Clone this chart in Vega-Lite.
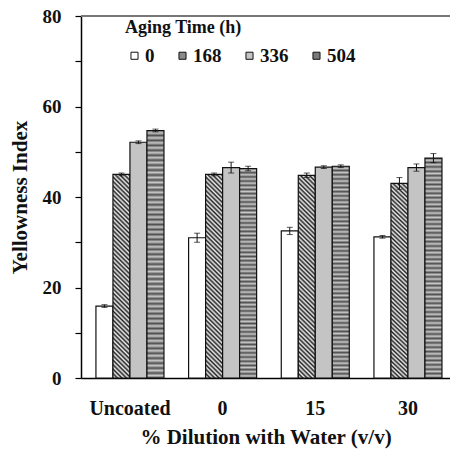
{
  "$schema": "https://vega.github.io/schema/vega-lite/v6.json",
  "autosize": {"type": "none"},
  "padding": {"left": 81, "top": 16, "right": 0, "bottom": 77},
  "width": 369,
  "height": 362,
  "background": "white",
  "config": {"view": {"stroke": null}, "font": "Times New Roman, Liberation Serif, serif"},
  "data": {"values": [
    {"g": "Uncoated", "t": "0", "v": 15.9, "lo": 15.6, "hi": 16.2},
    {"g": "Uncoated", "t": "168", "v": 45.0, "lo": 44.7, "hi": 45.3},
    {"g": "Uncoated", "t": "336", "v": 52.1, "lo": 51.8, "hi": 52.4},
    {"g": "Uncoated", "t": "504", "v": 54.7, "lo": 54.4, "hi": 55.0},
    {"g": "0", "t": "0", "v": 31.0, "lo": 30.0, "hi": 32.0},
    {"g": "0", "t": "168", "v": 45.0, "lo": 44.7, "hi": 45.3},
    {"g": "0", "t": "336", "v": 46.5, "lo": 45.3, "hi": 47.7},
    {"g": "0", "t": "504", "v": 46.3, "lo": 45.8, "hi": 46.8},
    {"g": "15", "t": "0", "v": 32.5, "lo": 31.7, "hi": 33.3},
    {"g": "15", "t": "168", "v": 44.8, "lo": 44.3, "hi": 45.3},
    {"g": "15", "t": "336", "v": 46.6, "lo": 46.3, "hi": 46.9},
    {"g": "15", "t": "504", "v": 46.8, "lo": 46.5, "hi": 47.1},
    {"g": "30", "t": "0", "v": 31.2, "lo": 30.9, "hi": 31.5},
    {"g": "30", "t": "168", "v": 43.0, "lo": 41.7, "hi": 44.3},
    {"g": "30", "t": "336", "v": 46.5, "lo": 45.7, "hi": 47.3},
    {"g": "30", "t": "504", "v": 48.6, "lo": 47.6, "hi": 49.6}
  ]},
  "encoding": {
    "x": {"field": "g", "type": "nominal", "sort": ["Uncoated", "0", "15", "30"],
      "scale": {"paddingInner": 0.266, "paddingOuter": 0.124, "align": 0.65},
      "axis": {"title": "% Dilution with Water (v/v)", "labelAngle": 0, "ticks": false,
        "domainColor": "#000", "domainWidth": 1.5,
        "labelFont": "Times New Roman, Liberation Serif, serif", "labelFontSize": 20, "labelFontWeight": "bold", "labelColor": "#111", "labelPadding": 20,
        "titleFont": "Times New Roman, Liberation Serif, serif", "titleFontSize": 21, "titleFontWeight": "bold", "titleColor": "#111", "titlePadding": 8}},
    "xOffset": {"field": "t", "type": "nominal", "sort": ["0", "168", "336", "504"], "scale": {"paddingInner": 0, "paddingOuter": 0}}
  },
  "layer": [
    {
      "mark": {"type": "bar", "stroke": "#111", "strokeWidth": 1.2},
      "encoding": {
        "y": {"field": "v", "type": "quantitative", "title": "Yellowness Index",
          "scale": {"domain": [0, 80], "nice": false},
          "axis": {"values": [0, 10, 20, 30, 40, 50, 60, 70, 80],
            "labelExpr": "datum.value % 20 === 0 ? datum.label : ''",
            "grid": false, "tickSize": 6, "tickColor": "#000", "tickWidth": 1.2,
            "domainColor": "#000", "domainWidth": 1.5,
            "labelFont": "Times New Roman, Liberation Serif, serif", "labelFontSize": 19, "labelFontWeight": "bold", "labelColor": "#111", "labelPadding": 14,
            "titleFont": "Times New Roman, Liberation Serif, serif", "titleFontSize": 21, "titleFontWeight": "bold", "titleColor": "#111", "titlePadding": 12}},
        "fill": {
          "condition": [
            {"test": "datum.t === '168'", "value":
            {"gradient": "linear", "x1": 0, "y1": 1, "x2": 0.0905, "y2": -0.09, "stops": [
              {"offset":0,"color":"#222"},{"offset":0.01,"color":"#eee"},{"offset":0.02,"color":"#222"},{"offset":0.03,"color":"#eee"},{"offset":0.04,"color":"#222"},{"offset":0.05,"color":"#eee"},{"offset":0.06,"color":"#222"},{"offset":0.07,"color":"#eee"},{"offset":0.08,"color":"#222"},{"offset":0.09,"color":"#eee"},
              {"offset":0.1,"color":"#222"},{"offset":0.11,"color":"#eee"},{"offset":0.12,"color":"#222"},{"offset":0.13,"color":"#eee"},{"offset":0.14,"color":"#222"},{"offset":0.15,"color":"#eee"},{"offset":0.16,"color":"#222"},{"offset":0.17,"color":"#eee"},{"offset":0.18,"color":"#222"},{"offset":0.19,"color":"#eee"},
              {"offset":0.2,"color":"#222"},{"offset":0.21,"color":"#eee"},{"offset":0.22,"color":"#222"},{"offset":0.23,"color":"#eee"},{"offset":0.24,"color":"#222"},{"offset":0.25,"color":"#eee"},{"offset":0.26,"color":"#222"},{"offset":0.27,"color":"#eee"},{"offset":0.28,"color":"#222"},{"offset":0.29,"color":"#eee"},
              {"offset":0.3,"color":"#222"},{"offset":0.31,"color":"#eee"},{"offset":0.32,"color":"#222"},{"offset":0.33,"color":"#eee"},{"offset":0.34,"color":"#222"},{"offset":0.35,"color":"#eee"},{"offset":0.36,"color":"#222"},{"offset":0.37,"color":"#eee"},{"offset":0.38,"color":"#222"},{"offset":0.39,"color":"#eee"},
              {"offset":0.4,"color":"#222"},{"offset":0.41,"color":"#eee"},{"offset":0.42,"color":"#222"},{"offset":0.43,"color":"#eee"},{"offset":0.44,"color":"#222"},{"offset":0.45,"color":"#eee"},{"offset":0.46,"color":"#222"},{"offset":0.47,"color":"#eee"},{"offset":0.48,"color":"#222"},{"offset":0.49,"color":"#eee"},
              {"offset":0.5,"color":"#222"},{"offset":0.51,"color":"#eee"},{"offset":0.52,"color":"#222"},{"offset":0.53,"color":"#eee"},{"offset":0.54,"color":"#222"},{"offset":0.55,"color":"#eee"},{"offset":0.56,"color":"#222"},{"offset":0.57,"color":"#eee"},{"offset":0.58,"color":"#222"},{"offset":0.59,"color":"#eee"},
              {"offset":0.6,"color":"#222"},{"offset":0.61,"color":"#eee"},{"offset":0.62,"color":"#222"},{"offset":0.63,"color":"#eee"},{"offset":0.64,"color":"#222"},{"offset":0.65,"color":"#eee"},{"offset":0.66,"color":"#222"},{"offset":0.67,"color":"#eee"},{"offset":0.68,"color":"#222"},{"offset":0.69,"color":"#eee"},
              {"offset":0.7,"color":"#222"},{"offset":0.71,"color":"#eee"},{"offset":0.72,"color":"#222"},{"offset":0.73,"color":"#eee"},{"offset":0.74,"color":"#222"},{"offset":0.75,"color":"#eee"},{"offset":0.76,"color":"#222"},{"offset":0.77,"color":"#eee"},{"offset":0.78,"color":"#222"},{"offset":0.79,"color":"#eee"},
              {"offset":0.8,"color":"#222"},{"offset":0.81,"color":"#eee"},{"offset":0.82,"color":"#222"},{"offset":0.83,"color":"#eee"},{"offset":0.84,"color":"#222"},{"offset":0.85,"color":"#eee"},{"offset":0.86,"color":"#222"},{"offset":0.87,"color":"#eee"},{"offset":0.88,"color":"#222"},{"offset":0.89,"color":"#eee"},
              {"offset":0.9,"color":"#222"},{"offset":0.91,"color":"#eee"},{"offset":0.92,"color":"#222"},{"offset":0.93,"color":"#eee"},{"offset":0.94,"color":"#222"},{"offset":0.95,"color":"#eee"},{"offset":0.96,"color":"#222"},{"offset":0.97,"color":"#eee"},{"offset":0.98,"color":"#222"},{"offset":0.99,"color":"#eee"},
              {"offset":1,"color":"#888"}
            ]}},
            {"test": "datum.t === '504'", "value":
            {"gradient": "linear", "x1": 0, "y1": 0, "x2": 0, "y2": 1, "stops": [
              {"offset":0,"color":"#505050"},{"offset":0.01,"color":"#c8c8c8"},{"offset":0.02,"color":"#505050"},{"offset":0.03,"color":"#c8c8c8"},{"offset":0.04,"color":"#505050"},{"offset":0.05,"color":"#c8c8c8"},{"offset":0.06,"color":"#505050"},{"offset":0.07,"color":"#c8c8c8"},{"offset":0.08,"color":"#505050"},{"offset":0.09,"color":"#c8c8c8"},
              {"offset":0.1,"color":"#505050"},{"offset":0.11,"color":"#c8c8c8"},{"offset":0.12,"color":"#505050"},{"offset":0.13,"color":"#c8c8c8"},{"offset":0.14,"color":"#505050"},{"offset":0.15,"color":"#c8c8c8"},{"offset":0.16,"color":"#505050"},{"offset":0.17,"color":"#c8c8c8"},{"offset":0.18,"color":"#505050"},{"offset":0.19,"color":"#c8c8c8"},
              {"offset":0.2,"color":"#505050"},{"offset":0.21,"color":"#c8c8c8"},{"offset":0.22,"color":"#505050"},{"offset":0.23,"color":"#c8c8c8"},{"offset":0.24,"color":"#505050"},{"offset":0.25,"color":"#c8c8c8"},{"offset":0.26,"color":"#505050"},{"offset":0.27,"color":"#c8c8c8"},{"offset":0.28,"color":"#505050"},{"offset":0.29,"color":"#c8c8c8"},
              {"offset":0.3,"color":"#505050"},{"offset":0.31,"color":"#c8c8c8"},{"offset":0.32,"color":"#505050"},{"offset":0.33,"color":"#c8c8c8"},{"offset":0.34,"color":"#505050"},{"offset":0.35,"color":"#c8c8c8"},{"offset":0.36,"color":"#505050"},{"offset":0.37,"color":"#c8c8c8"},{"offset":0.38,"color":"#505050"},{"offset":0.39,"color":"#c8c8c8"},
              {"offset":0.4,"color":"#505050"},{"offset":0.41,"color":"#c8c8c8"},{"offset":0.42,"color":"#505050"},{"offset":0.43,"color":"#c8c8c8"},{"offset":0.44,"color":"#505050"},{"offset":0.45,"color":"#c8c8c8"},{"offset":0.46,"color":"#505050"},{"offset":0.47,"color":"#c8c8c8"},{"offset":0.48,"color":"#505050"},{"offset":0.49,"color":"#c8c8c8"},
              {"offset":0.5,"color":"#505050"},{"offset":0.51,"color":"#c8c8c8"},{"offset":0.52,"color":"#505050"},{"offset":0.53,"color":"#c8c8c8"},{"offset":0.54,"color":"#505050"},{"offset":0.55,"color":"#c8c8c8"},{"offset":0.56,"color":"#505050"},{"offset":0.57,"color":"#c8c8c8"},{"offset":0.58,"color":"#505050"},{"offset":0.59,"color":"#c8c8c8"},
              {"offset":0.6,"color":"#505050"},{"offset":0.61,"color":"#c8c8c8"},{"offset":0.62,"color":"#505050"},{"offset":0.63,"color":"#c8c8c8"},{"offset":0.64,"color":"#505050"},{"offset":0.65,"color":"#c8c8c8"},{"offset":0.66,"color":"#505050"},{"offset":0.67,"color":"#c8c8c8"},{"offset":0.68,"color":"#505050"},{"offset":0.69,"color":"#c8c8c8"},
              {"offset":0.7,"color":"#505050"},{"offset":0.71,"color":"#c8c8c8"},{"offset":0.72,"color":"#505050"},{"offset":0.73,"color":"#c8c8c8"},{"offset":0.74,"color":"#505050"},{"offset":0.75,"color":"#c8c8c8"},{"offset":0.76,"color":"#505050"},{"offset":0.77,"color":"#c8c8c8"},{"offset":0.78,"color":"#505050"},{"offset":0.79,"color":"#c8c8c8"},
              {"offset":0.8,"color":"#505050"},{"offset":0.81,"color":"#c8c8c8"},{"offset":0.82,"color":"#505050"},{"offset":0.83,"color":"#c8c8c8"},{"offset":0.84,"color":"#505050"},{"offset":0.85,"color":"#c8c8c8"},{"offset":0.86,"color":"#505050"},{"offset":0.87,"color":"#c8c8c8"},{"offset":0.88,"color":"#505050"},{"offset":0.89,"color":"#c8c8c8"},
              {"offset":0.9,"color":"#505050"},{"offset":0.91,"color":"#c8c8c8"},{"offset":0.92,"color":"#505050"},{"offset":0.93,"color":"#c8c8c8"},{"offset":0.94,"color":"#505050"},{"offset":0.95,"color":"#c8c8c8"},{"offset":0.96,"color":"#505050"},{"offset":0.97,"color":"#c8c8c8"},{"offset":0.98,"color":"#505050"},{"offset":0.99,"color":"#c8c8c8"},
              {"offset":1,"color":"#505050"}
            ]}}
          ],
          "field": "t", "type": "nominal", "sort": ["0", "168", "336", "504"],
          "scale": {"domain": ["0", "168", "336", "504"], "range": ["#ffffff", "#8a8a8a", "#c4c4c4", "#7a7a7a"]},
          "legend": {"orient": "none", "legendX": 44, "legendY": 3, "direction": "horizontal",
            "title": "Aging Time (h)", "titleFont": "Times New Roman, Liberation Serif, serif", "titleFontSize": 18, "titleFontWeight": "bold", "titleColor": "#111", "titlePadding": 9,
            "labelFont": "Times New Roman, Liberation Serif, serif", "labelFontSize": 19, "labelFontWeight": "bold", "labelColor": "#111", "labelOffset": 1,
            "symbolType": "square", "symbolSize": 50, "symbolStrokeColor": "#111", "symbolStrokeWidth": 1, "columnPadding": 18}}
      }
    },
    {
      "mark": {"type": "rule", "color": "#111", "strokeWidth": 1},
      "encoding": {
        "y": {"field": "lo", "type": "quantitative", "title": "Yellowness Index"},
        "y2": {"field": "hi"}
      }
    },
    {
      "mark": {"type": "tick", "orient": "horizontal", "color": "#111", "size": 6, "thickness": 1},
      "encoding": {"y": {"field": "lo", "type": "quantitative", "title": "Yellowness Index"}}
    },
    {
      "mark": {"type": "tick", "orient": "horizontal", "color": "#111", "size": 6, "thickness": 1},
      "encoding": {"y": {"field": "hi", "type": "quantitative", "title": "Yellowness Index"}}
    },
    {
      "mark": {"type": "rule", "color": "#777", "strokeWidth": 2},
      "encoding": {"y": {"datum": 80, "type": "quantitative", "title": "Yellowness Index"}, "x": null, "xOffset": null}
    }
  ]
}
